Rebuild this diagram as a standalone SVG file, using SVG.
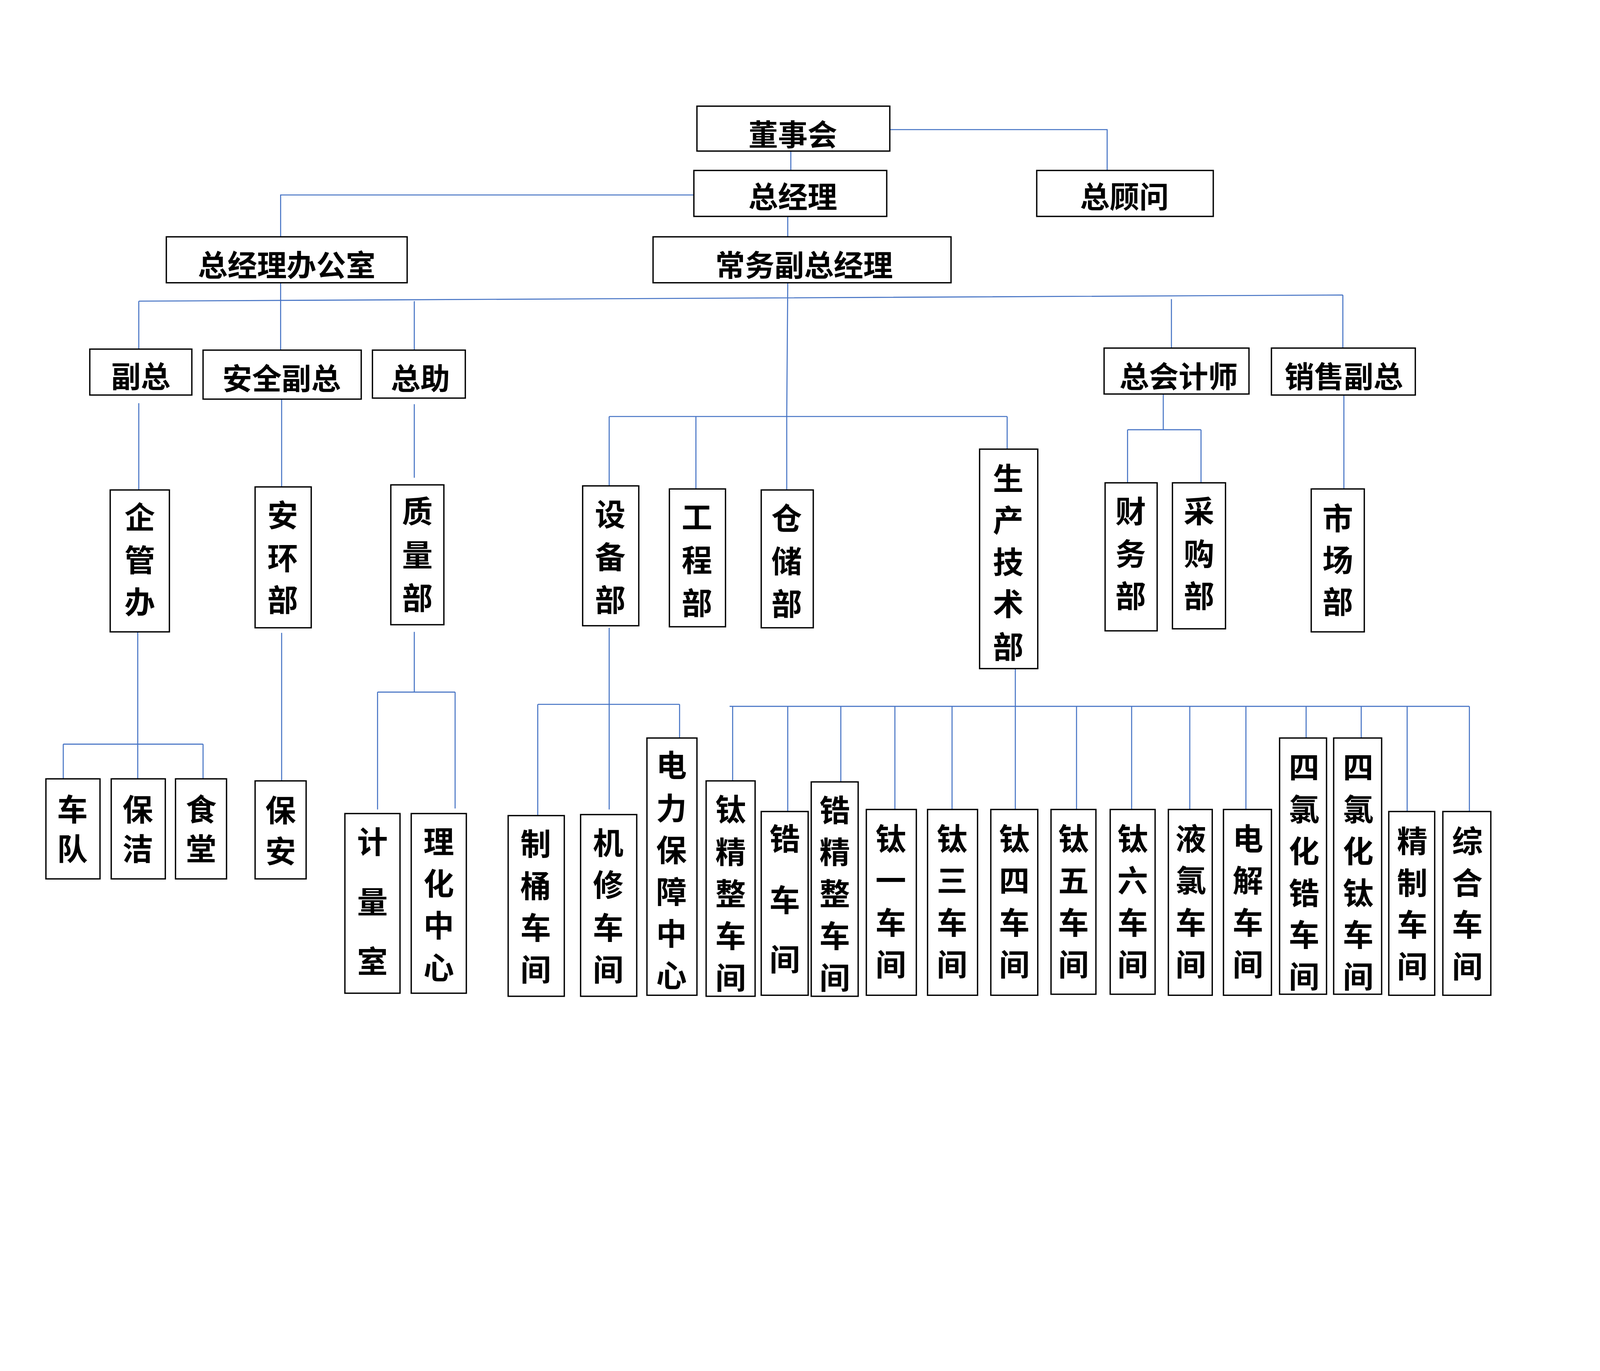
<svg xmlns="http://www.w3.org/2000/svg" width="4959" height="3509" viewBox="0 0 4959 3509">
<style>
.b{fill:#fff;stroke:#000;stroke-width:1.3}
.l{fill:none;stroke:#4472c4;stroke-width:1}
text{font-family:"Noto Sans CJK SC","Noto Sans",sans-serif;font-weight:bold;font-size:29px;text-anchor:middle;dominant-baseline:central;fill:#000}
.v{font-size:30px}
</style>
<rect width="4959" height="3509" fill="#fff"/>
<svg x="0" y="0" width="4096" height="2900" viewBox="0 0 1568 1110" preserveAspectRatio="none">
<g id="connectors">
<path class="l" d="M775 148V167M872 127H1085V167M680 191H275V232M772 212V232"/>
<path class="l" d="M136 295L1316 289M136 295V342M275 277V343M406 295V343M772 277L771 408M1148 293V341M1316 289V341"/>
<path class="l" d="M136 395V480M276 391V477M406 396V468"/>
<path class="l" d="M597 408H987M597 408V476M682 408V479M771 408V480M987 408V440"/>
<path class="l" d="M1140 386V421M1105 421H1177M1105 421V473M1177 421V473M1317 387V479"/>
<path class="l" d="M135 619V763M62 729H199M62 729V763M199 729V763M276 620V765"/>
<path class="l" d="M406 619V678M370 678H446M370 678V793M446 678V792"/>
<path class="l" d="M597 615V793M527 690H666M527 690V799M666 690V723"/>
<path class="l" d="M995 655V793M715 692H1440M718 692V765M772 692V795M824 692V766M877 692V793M933 692V793M1055 692V793M1109 692V793M1166 692V793M1221 692V793M1280 692V723M1334 692V723M1379 692V795M1440 692V795"/>
</g>
<g id="n1"><rect class="b" x="683" y="104" width="189" height="44"/><text x="777" y="130">董事会</text></g>
<g id="n2"><rect class="b" x="680" y="167" width="189" height="45"/><text x="777" y="191">总经理</text></g>
<g id="n3"><rect class="b" x="1016" y="167" width="173" height="45"/><text x="1102" y="191">总顾问</text></g>
<g id="n4"><rect class="b" x="163" y="232" width="236" height="45"/><text x="281" y="258">总经理办公室</text></g>
<g id="n5"><rect class="b" x="640" y="232" width="292" height="45"/><text x="788" y="258">常务副总经理</text></g>
<g id="n6"><rect class="b" x="88" y="342" width="100" height="45"/><text x="138" y="367">副总</text></g>
<g id="n7"><rect class="b" x="199" y="343" width="155" height="48"/><text x="276" y="369">安全副总</text></g>
<g id="n8"><rect class="b" x="365" y="343" width="91" height="47"/><text x="412" y="369">总助</text></g>
<g id="n9"><rect class="b" x="1082" y="341" width="142" height="45"/><text x="1155" y="367">总会计师</text></g>
<g id="n10"><rect class="b" x="1246" y="341" width="141" height="46"/><text x="1317" y="367">销售副总</text></g>
<g id="n11"><rect class="b" x="108" y="480" width="58" height="139"/><text class="v"><tspan x="137" y="505">企</tspan><tspan x="137" y="547">管</tspan><tspan x="137" y="588">办</tspan></text></g>
<g id="n12"><rect class="b" x="250" y="477" width="55" height="138"/><text class="v"><tspan x="277" y="503">安</tspan><tspan x="277" y="545">环</tspan><tspan x="277" y="586">部</tspan></text></g>
<g id="n13"><rect class="b" x="383" y="475" width="52" height="137"/><text class="v"><tspan x="409" y="499">质</tspan><tspan x="409" y="542">量</tspan><tspan x="409" y="584">部</tspan></text></g>
<g id="n14"><rect class="b" x="571" y="476" width="55" height="137"/><text class="v"><tspan x="598" y="502">设</tspan><tspan x="598" y="544">备</tspan><tspan x="598" y="586">部</tspan></text></g>
<g id="n15"><rect class="b" x="656" y="479" width="55" height="135"/><text class="v"><tspan x="683" y="505">工</tspan><tspan x="683" y="547">程</tspan><tspan x="683" y="589">部</tspan></text></g>
<g id="n16"><rect class="b" x="746" y="480" width="51" height="135"/><text class="v"><tspan x="771" y="506">仓</tspan><tspan x="771" y="548">储</tspan><tspan x="771" y="590">部</tspan></text></g>
<g id="n17"><rect class="b" x="960" y="440" width="57" height="215"/><text class="v"><tspan x="988" y="467">生</tspan><tspan x="988" y="508">产</tspan><tspan x="988" y="549">技</tspan><tspan x="988" y="590">术</tspan><tspan x="988" y="632">部</tspan></text></g>
<g id="n18"><rect class="b" x="1083" y="473" width="51" height="145"/><text class="v"><tspan x="1108" y="499">财</tspan><tspan x="1108" y="541">务</tspan><tspan x="1108" y="582">部</tspan></text></g>
<g id="n19"><rect class="b" x="1149" y="473" width="52" height="143"/><text class="v"><tspan x="1175" y="499">采</tspan><tspan x="1175" y="541">购</tspan><tspan x="1175" y="582">部</tspan></text></g>
<g id="n20"><rect class="b" x="1285" y="479" width="52" height="140"/><text class="v"><tspan x="1311" y="506">市</tspan><tspan x="1311" y="547">场</tspan><tspan x="1311" y="588">部</tspan></text></g>
<g id="n21"><rect class="b" x="45" y="763" width="53" height="98"/><text class="v"><tspan x="71" y="791">车</tspan><tspan x="71" y="830">队</tspan></text></g>
<g id="n22"><rect class="b" x="109" y="763" width="53" height="98"/><text class="v"><tspan x="135" y="791">保</tspan><tspan x="135" y="830">洁</tspan></text></g>
<g id="n23"><rect class="b" x="172" y="763" width="50" height="98"/><text class="v"><tspan x="197" y="791">食</tspan><tspan x="197" y="830">堂</tspan></text></g>
<g id="n24"><rect class="b" x="250" y="765" width="50" height="96"/><text class="v"><tspan x="275" y="792">保</tspan><tspan x="275" y="832">安</tspan></text></g>
<g id="n25"><rect class="b" x="338" y="797" width="54" height="176"/><text class="v"><tspan x="365" y="823">计</tspan><tspan x="365" y="882">量</tspan><tspan x="365" y="940">室</tspan></text></g>
<g id="n26"><rect class="b" x="403" y="797" width="54" height="176"/><text class="v"><tspan x="430" y="823">理</tspan><tspan x="430" y="864">化</tspan><tspan x="430" y="905">中</tspan><tspan x="430" y="946">心</tspan></text></g>
<g id="n27"><rect class="b" x="498" y="799" width="55" height="177"/><text class="v"><tspan x="525" y="825">制</tspan><tspan x="525" y="866">桶</tspan><tspan x="525" y="907">车</tspan><tspan x="525" y="948">间</tspan></text></g>
<g id="n28"><rect class="b" x="569" y="798" width="55" height="178"/><text class="v"><tspan x="596" y="824">机</tspan><tspan x="596" y="865">修</tspan><tspan x="596" y="907">车</tspan><tspan x="596" y="948">间</tspan></text></g>
<g id="n29"><rect class="b" x="634" y="723" width="49" height="252"/><text class="v"><tspan x="658" y="748">电</tspan><tspan x="658" y="790">力</tspan><tspan x="658" y="831">保</tspan><tspan x="658" y="872">障</tspan><tspan x="658" y="913">中</tspan><tspan x="658" y="954">心</tspan></text></g>
<g id="n30"><rect class="b" x="692" y="765" width="48" height="211"/><text class="v"><tspan x="716" y="791">钛</tspan><tspan x="716" y="833">精</tspan><tspan x="716" y="874">整</tspan><tspan x="716" y="915">车</tspan><tspan x="716" y="956">间</tspan></text></g>
<g id="n31"><rect class="b" x="746" y="795" width="46" height="180"/><text class="v"><tspan x="769" y="820">锆</tspan><tspan x="769" y="880">车</tspan><tspan x="769" y="938">间</tspan></text></g>
<g id="n32"><rect class="b" x="795" y="766" width="46" height="210"/><text class="v"><tspan x="818" y="792">锆</tspan><tspan x="818" y="833">精</tspan><tspan x="818" y="874">整</tspan><tspan x="818" y="915">车</tspan><tspan x="818" y="956">间</tspan></text></g>
<g id="n33"><rect class="b" x="849" y="793" width="49" height="182"/><text class="v"><tspan x="873" y="820">钛</tspan><tspan x="873" y="861">一</tspan><tspan x="873" y="902">车</tspan><tspan x="873" y="943">间</tspan></text></g>
<g id="n34"><rect class="b" x="909" y="793" width="49" height="182"/><text class="v"><tspan x="933" y="820">钛</tspan><tspan x="933" y="861">三</tspan><tspan x="933" y="902">车</tspan><tspan x="933" y="943">间</tspan></text></g>
<g id="n35"><rect class="b" x="971" y="793" width="46" height="182"/><text class="v"><tspan x="994" y="820">钛</tspan><tspan x="994" y="861">四</tspan><tspan x="994" y="902">车</tspan><tspan x="994" y="943">间</tspan></text></g>
<g id="n36"><rect class="b" x="1030" y="793" width="44" height="181"/><text class="v"><tspan x="1052" y="820">钛</tspan><tspan x="1052" y="861">五</tspan><tspan x="1052" y="902">车</tspan><tspan x="1052" y="943">间</tspan></text></g>
<g id="n37"><rect class="b" x="1088" y="793" width="44" height="181"/><text class="v"><tspan x="1110" y="820">钛</tspan><tspan x="1110" y="861">六</tspan><tspan x="1110" y="902">车</tspan><tspan x="1110" y="943">间</tspan></text></g>
<g id="n38"><rect class="b" x="1145" y="793" width="43" height="182"/><text class="v"><tspan x="1167" y="820">液</tspan><tspan x="1167" y="861">氯</tspan><tspan x="1167" y="902">车</tspan><tspan x="1167" y="943">间</tspan></text></g>
<g id="n39"><rect class="b" x="1199" y="793" width="47" height="182"/><text class="v"><tspan x="1223" y="820">电</tspan><tspan x="1223" y="861">解</tspan><tspan x="1223" y="902">车</tspan><tspan x="1223" y="943">间</tspan></text></g>
<g id="n40"><rect class="b" x="1254" y="723" width="46" height="251"/><text class="v"><tspan x="1278" y="750">四</tspan><tspan x="1278" y="791">氯</tspan><tspan x="1278" y="832">化</tspan><tspan x="1278" y="873">锆</tspan><tspan x="1278" y="914">车</tspan><tspan x="1278" y="955">间</tspan></text></g>
<g id="n41"><rect class="b" x="1307" y="723" width="47" height="251"/><text class="v"><tspan x="1331" y="750">四</tspan><tspan x="1331" y="791">氯</tspan><tspan x="1331" y="832">化</tspan><tspan x="1331" y="873">钛</tspan><tspan x="1331" y="914">车</tspan><tspan x="1331" y="955">间</tspan></text></g>
<g id="n42"><rect class="b" x="1361" y="795" width="45" height="180"/><text class="v"><tspan x="1384" y="822">精</tspan><tspan x="1384" y="863">制</tspan><tspan x="1384" y="904">车</tspan><tspan x="1384" y="945">间</tspan></text></g>
<g id="n43"><rect class="b" x="1414" y="795" width="47" height="180"/><text class="v"><tspan x="1438" y="822">综</tspan><tspan x="1438" y="863">合</tspan><tspan x="1438" y="904">车</tspan><tspan x="1438" y="945">间</tspan></text></g>
</svg>
</svg>
